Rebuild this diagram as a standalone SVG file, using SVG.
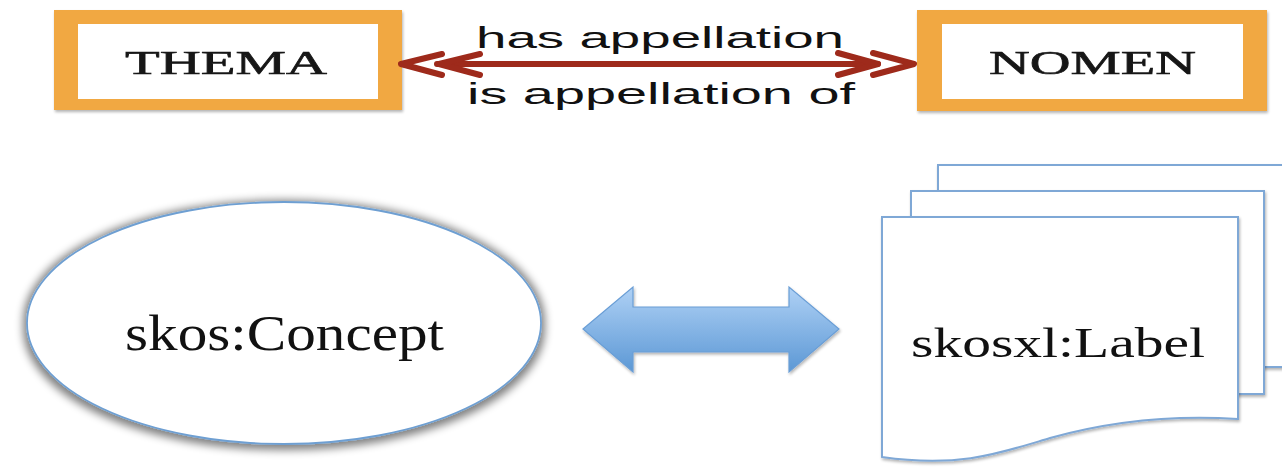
<svg xmlns="http://www.w3.org/2000/svg" width="1282" height="467" viewBox="0 0 1282 467">
<style>
.box{fill:#F1A843;}
.inner{fill:#ffffff;}
.boxtext{font-family:"Liberation Serif",serif;font-size:34px;fill:#151515;stroke:#151515;stroke-width:0.6;}
.rel{font-family:"Liberation Sans",Arial,sans-serif;font-size:30px;fill:#111;}
.big{font-family:"Liberation Serif",serif;fill:#111;}
.doc{fill:#ffffff;stroke:#7FA8D6;stroke-width:2;}
.red{fill:none;stroke:#9E2A1B;stroke-width:6;stroke-linecap:round;stroke-linejoin:round;}
</style>
<defs>
<filter id="sh" x="-10%" y="-15%" width="120%" height="135%">
<feMorphology in="SourceAlpha" operator="dilate" radius="3"/>
<feGaussianBlur stdDeviation="4"/>
<feOffset dx="0" dy="2" result="b"/>
<feComponentTransfer><feFuncA type="linear" slope="0.5"/></feComponentTransfer>
<feMerge><feMergeNode/><feMergeNode in="SourceGraphic"/></feMerge>
</filter>
<filter id="sh2" x="-10%" y="-10%" width="120%" height="130%">
<feGaussianBlur in="SourceAlpha" stdDeviation="1.5"/>
<feOffset dx="1" dy="2" result="b"/>
<feComponentTransfer><feFuncA type="linear" slope="0.3"/></feComponentTransfer>
<feMerge><feMergeNode/><feMergeNode in="SourceGraphic"/></feMerge>
</filter>
<linearGradient id="bg" x1="0" y1="0" x2="0" y2="1">
<stop offset="0" stop-color="#AFD1F5"/>
<stop offset="1" stop-color="#5C98D5"/>
</linearGradient>
</defs>

<g id="thema" filter="url(#sh2)">
<rect class="box" x="54" y="10" width="348" height="100"/>
<rect class="inner" x="78" y="24" width="300" height="75"/>
<text class="boxtext" x="125" y="74" textLength="202" lengthAdjust="spacingAndGlyphs">THEMA</text>
</g>

<g id="nomen" filter="url(#sh2)">
<rect class="box" x="917" y="10" width="350" height="101"/>
<rect class="inner" x="942" y="24" width="301" height="75"/>
<text class="boxtext" x="989" y="74" textLength="207" lengthAdjust="spacingAndGlyphs">NOMEN</text>
</g>

<g id="concept">
<ellipse cx="284" cy="323" rx="257" ry="121" fill="#ffffff" stroke="#6E9FD2" stroke-width="1.8" filter="url(#sh)"/>
<text class="big" x="125" y="350" font-size="50" textLength="319" lengthAdjust="spacingAndGlyphs">skos:Concept</text>
</g>

<g id="label">
<rect class="doc" x="938" y="165" width="360" height="202" filter="url(#sh2)"/>
<rect class="doc" x="911" y="191" width="353" height="203" filter="url(#sh2)"/>
<path class="doc" filter="url(#sh2)" d="M882,217 H1238 V419 C1160,414 1100,424 1050,438 C1000,453 960,468 882,457 Z"/>
<text class="big" x="911" y="357" font-size="43" textLength="294" lengthAdjust="spacingAndGlyphs">skosxl:Label</text>
</g>

<g id="connectors">
<line class="red" x1="437" y1="64" x2="878" y2="64"/>
<polyline class="red" points="442,54 401,64 442,75"/>
<polyline class="red" points="480,54 439,64 480,75"/>
<polyline class="red" points="873,53 914,64 873,75"/>
<polyline class="red" points="838,53 878,64 838,75"/>
<text class="rel" x="476" y="48" textLength="368" lengthAdjust="spacingAndGlyphs">has appellation</text>
<text class="rel" x="467" y="104" textLength="388" lengthAdjust="spacingAndGlyphs">is appellation of</text>
<path d="M583,329 L633,287 L633,307 L789,307 L789,287 L839,329 L789,372 L789,352 L633,352 L633,372 Z" fill="url(#bg)" stroke="#6A9ED6" stroke-width="1.2" filter="url(#sh2)"/>
</g>
</svg>
